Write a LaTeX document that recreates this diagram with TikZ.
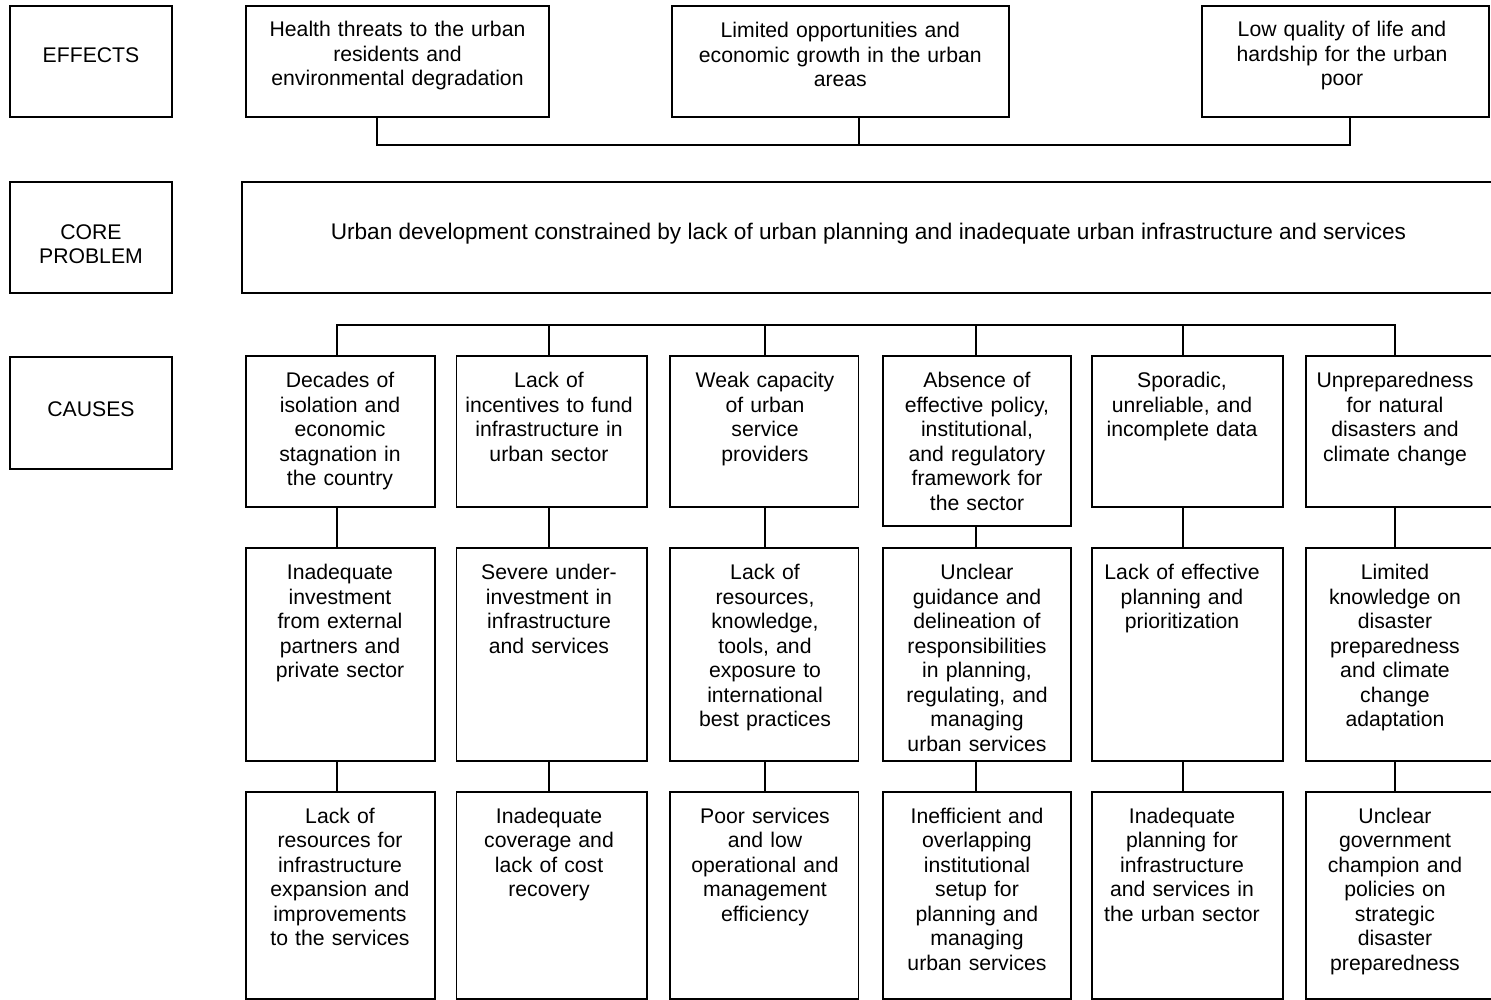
\documentclass[tikz,border=0pt]{standalone}
\usepackage{fontspec}
\setmainfont{Liberation Sans}
\begin{document}
\begin{tikzpicture}[x=1pt,y=-1pt,
  box/.style={draw, line width=1.7pt, inner sep=0pt, outer sep=0pt, anchor=north west},
  txt/.style={anchor=base, inner sep=0pt, text width=330pt, align=center,
              font=\fontsize{21.2}{24.5}\selectfont},
  conn/.style={line width=1.7pt}]
\useasboundingbox (0,0) rectangle (1491,1000);
\clip (0,0) rectangle (1491,1000);

% ---------- left labels ----------
\node[box, minimum width=162pt, minimum height=111pt] (lE) at (10,6) {};
\node[box, minimum width=162pt, minimum height=111pt] (lC) at (10,182) {};
\node[box, minimum width=162pt, minimum height=112pt] (lA) at (10,357) {};
\node[txt] (lEt) at (91,62.6) {EFFECTS};
\node[txt] (lCt) at (91,239.3) {CORE\\PROBLEM};
\node[txt] (lAt) at (91,416) {CAUSES};

% ---------- effects ----------
\node[box, minimum width=303pt, minimum height=111pt] (e1) at (246,6) {};
\node[box, minimum width=337pt, minimum height=111pt] (e2) at (672,6) {};
\node[box, minimum width=287pt, minimum height=111pt] (e3) at (1202,6) {};
\node[txt] (e1t) at (397.5,37) {Health threats to the urban\\residents and\\environmental degradation};
\node[txt] (e2t) at (840.3,38) {Limited opportunities and\\economic growth in the urban\\areas};
\node[txt] (e3t) at (1342,37) {Low quality of life and\\hardship for the urban\\poor};

\coordinate (ebar) at (0,145);
\coordinate (j1) at (377,0);
\coordinate (j2) at (859,0);
\coordinate (j3) at (1350,0);
\draw[conn] (e1.south -| j1) -- (j1 |- ebar) -- (j3 |- ebar) -- (e3.south -| j3);
\draw[conn] (e2.south -| j2) -- (j2 |- ebar);

% ---------- core problem ----------
\node[box, minimum width=1252pt, minimum height=111pt] (core) at (242,182) {};
\node[anchor=base, inner sep=0pt, font=\fontsize{22.6}{26}\selectfont] (coret) at (868.5,240)
  {Urban development constrained by lack of urban planning and inadequate urban infrastructure and services};

% ---------- causes ----------
% row 1
\node[box, minimum width=189pt, minimum height=151pt] (a1) at (246,356) {};
\node[box, minimum width=190.5pt, minimum height=151pt] (a2) at (456.5,356) {};
\node[box, minimum width=188.6pt, minimum height=151pt] (a3) at (670,356) {};
\node[box, minimum width=188pt, minimum height=169.7pt] (a4) at (883,356) {};
\node[box, minimum width=191pt, minimum height=151pt] (a5) at (1092,356) {};
\node[box, minimum width=190pt, minimum height=151pt] (a6) at (1306,356) {};
% row 2
\node[box, minimum width=189pt, minimum height=213pt] (b1) at (246,548) {};
\node[box, minimum width=190.5pt, minimum height=213pt] (b2) at (456.5,548) {};
\node[box, minimum width=188.6pt, minimum height=213pt] (b3) at (670,548) {};
\node[box, minimum width=188pt, minimum height=213pt] (b4) at (883,548) {};
\node[box, minimum width=191pt, minimum height=213pt] (b5) at (1092,548) {};
\node[box, minimum width=190pt, minimum height=213pt] (b6) at (1306,548) {};
% row 3
\node[box, minimum width=189pt, minimum height=207pt] (c1) at (246,792) {};
\node[box, minimum width=190.5pt, minimum height=207pt] (c2) at (456.5,792) {};
\node[box, minimum width=188.6pt, minimum height=207pt] (c3) at (670,792) {};
\node[box, minimum width=188pt, minimum height=207pt] (c4) at (883,792) {};
\node[box, minimum width=191pt, minimum height=207pt] (c5) at (1092,792) {};
\node[box, minimum width=190pt, minimum height=207pt] (c6) at (1306,792) {};

% texts row 1
\node[txt] (a1t) at (340,387.5) {Decades of\\isolation and\\economic\\stagnation in\\the country};
\node[txt] (a2t) at (549,387.5) {Lack of\\incentives to fund\\infrastructure in\\urban sector};
\node[txt] (a3t) at (765,387.5) {Weak capacity\\of urban\\service\\providers};
\node[txt] (a4t) at (977,387.5) {Absence of\\effective policy,\\institutional,\\and regulatory\\framework for\\the sector};
\node[txt] (a5t) at (1182,387.5) {Sporadic,\\unreliable, and\\incomplete data};
\node[txt] (a6t) at (1395,387.5) {Unpreparedness\\for natural\\disasters and\\climate change};
% texts row 2
\node[txt] (b1t) at (340,579.5) {Inadequate\\investment\\from external\\partners and\\private sector};
\node[txt] (b2t) at (549,579.5) {Severe under-\\investment in\\infrastructure\\and services};
\node[txt] (b3t) at (765,579.5) {Lack of\\resources,\\knowledge,\\tools, and\\exposure to\\international\\best practices};
\node[txt] (b4t) at (977,579.5) {Unclear\\guidance and\\delineation of\\responsibilities\\in planning,\\regulating, and\\managing\\urban services};
\node[txt] (b5t) at (1182,579.5) {Lack of effective\\planning and\\prioritization};
\node[txt] (b6t) at (1395,579.5) {Limited\\knowledge on\\disaster\\preparedness\\and climate\\change\\adaptation};
% texts row 3
\node[txt] (c1t) at (340,823) {Lack of\\resources for\\infrastructure\\expansion and\\improvements\\to the services};
\node[txt] (c2t) at (549,823) {Inadequate\\coverage and\\lack of cost\\recovery};
\node[txt] (c3t) at (765,823) {Poor services\\and low\\operational and\\management\\efficiency};
\node[txt] (c4t) at (977,823) {Inefficient and\\overlapping\\institutional\\setup for\\planning and\\managing\\urban services};
\node[txt] (c5t) at (1182,823) {Inadequate\\planning for\\infrastructure\\and services in\\the urban sector};
\node[txt] (c6t) at (1395,823) {Unclear\\government\\champion and\\policies on\\strategic\\disaster\\preparedness};

% connectors for causes
\coordinate (cbar) at (0,325);
\coordinate (k1) at (337,0);
\coordinate (k2) at (549,0);
\coordinate (k3) at (765,0);
\coordinate (k4) at (976,0);
\coordinate (k5) at (1183,0);
\coordinate (k6) at (1395,0);
\draw[conn] (a1.north -| k1) -- (k1 |- cbar) -- (k6 |- cbar) -- (a6.north -| k6);
\foreach \i in {2,3,4,5} {
  \draw[conn] (a\i.north -| k\i) -- (k\i |- cbar);
}
\foreach \i in {1,...,6} {
  \draw[conn] (a\i.south -| k\i) -- (b\i.north -| k\i);
  \draw[conn] (b\i.south -| k\i) -- (c\i.north -| k\i);
}
\end{tikzpicture}
\end{document}
